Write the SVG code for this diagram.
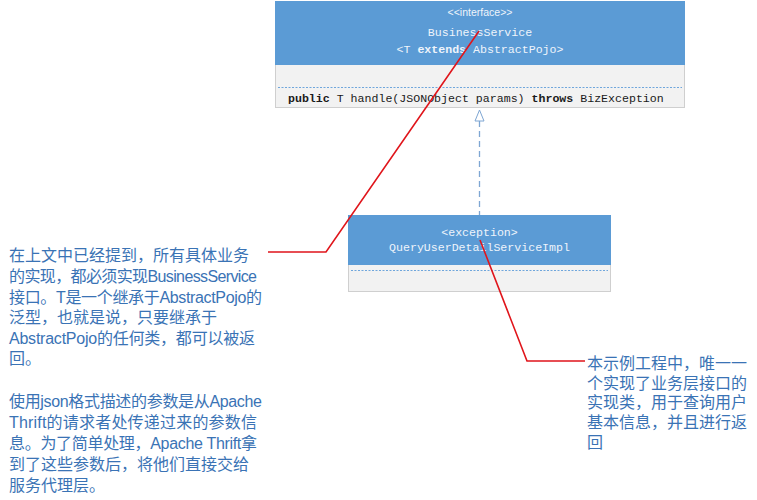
<svg xmlns="http://www.w3.org/2000/svg" width="757" height="500" viewBox="0 0 757 500">
<style>
.hdr{fill:#5b9bd5;}
.body{fill:#f2f2f2;stroke:#cfcfcf;stroke-width:1;}
.sep{stroke:#6fa6dc;stroke-width:1;stroke-dasharray:2,1.5;}
.mono{font-family:"Liberation Mono","DejaVu Sans Mono",monospace;font-size:11.6px;}
.hw{fill:#eef4fb;}
.note{font-family:"Liberation Sans","Noto Sans CJK SC",sans-serif;font-size:16px;fill:#3a73b5;}
.red{fill:none;stroke:#e0151b;stroke-width:1.6;}
</style>
<rect width="757" height="500" fill="#ffffff"/>
<g id="BusinessService">
<rect class="body" x="275.5" y="1.5" width="409" height="106"/>
<rect class="hdr" x="275" y="1" width="410" height="64"/>
<text x="480" y="16" text-anchor="middle" font-family="'Liberation Sans',sans-serif" font-size="10.5" class="hw">&lt;&lt;interface&gt;&gt;</text>
<text x="480" y="36" text-anchor="middle" class="mono hw">BusinessService</text>
<text x="480" y="53" text-anchor="middle" class="mono hw">&lt;T <tspan font-weight="bold">extends</tspan> AbstractPojo&gt;</text>
<line class="sep" x1="278" y1="87.5" x2="682" y2="87.5"/>
<text x="288" y="102" class="mono" fill="#1a1a1a"><tspan font-weight="bold">public</tspan> T handle(JSONObject params) <tspan font-weight="bold">throws</tspan> BizException</text>
</g>
<g id="QueryUserDetailServiceImpl">
<rect class="body" x="348.5" y="215.5" width="262" height="76"/>
<rect class="hdr" x="348" y="215" width="263" height="50"/>
<text x="479.5" y="236" text-anchor="middle" class="mono hw">&lt;exception&gt;</text>
<text x="479.5" y="251" text-anchor="middle" class="mono hw">QueryUserDetailServiceImpl</text>
<line class="sep" x1="351" y1="270.5" x2="608" y2="270.5"/>
</g>
<g id="note-left" class="note">
<text x="9" y="261">在上文中已经提到，所有具体业务</text>
<text x="9" y="282" textLength="248" lengthAdjust="spacing">的实现，都必须实现BusinessService</text>
<text x="9" y="303" textLength="253" lengthAdjust="spacing">接口。T是一个继承于AbstractPojo的</text>
<text x="9" y="323">泛型，也就是说，只要继承于</text>
<text x="9" y="344" textLength="246" lengthAdjust="spacing">AbstractPojo的任何类，都可以被返</text>
<text x="9" y="364">回。</text>
<text x="9" y="407" textLength="253" lengthAdjust="spacing">使用json格式描述的参数是从Apache</text>
<text x="9" y="428" textLength="248" lengthAdjust="spacing">Thrift的请求者处传递过来的参数信</text>
<text x="9" y="449" textLength="248" lengthAdjust="spacing">息。为了简单处理，Apache Thrift拿</text>
<text x="9" y="470">到了这些参数后，将他们直接交给</text>
<text x="9" y="491">服务代理层。</text>
</g>
<g id="note-right" class="note">
<text x="587" y="369">本示例工程中，唯一一</text>
<text x="587" y="389">个实现了业务层接口的</text>
<text x="587" y="408">实现类，用于查询用户</text>
<text x="587" y="428">基本信息，并且进行返</text>
<text x="587" y="448">回</text>
</g>
<g id="connectors">
<line x1="479.5" y1="121" x2="479.5" y2="215" stroke="#7ea6d3" stroke-width="1.3" stroke-dasharray="6,4"/>
<polygon points="479.5,110 475,121 484,121" fill="#ffffff" stroke="#7ea6d3" stroke-width="1"/>
<polyline class="red" points="479,31 326,252 268,252"/>
<polyline class="red" points="480,240 527,361 585,361"/>
</g>
</svg>
